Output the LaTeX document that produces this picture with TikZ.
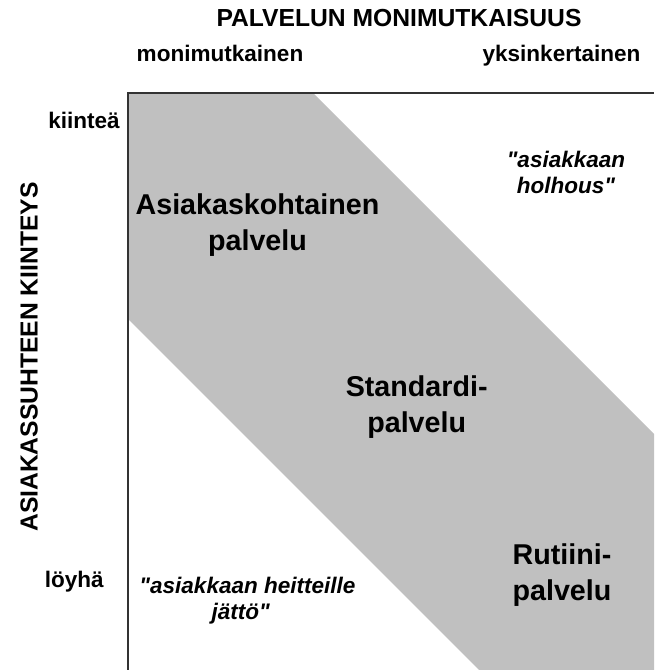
\documentclass[tikz,border=0pt]{standalone}
\usepackage{fontspec}
% plain family without TeX ligatures, so that " stays a straight quote
\newfontfamily\labelfont{Liberation Sans}
\definecolor{bandgray}{HTML}{C0C0C0}
\definecolor{frameline}{HTML}{333333}
\begin{document}
\begin{tikzpicture}[x=0.75pt,y=-0.75pt,inner sep=0pt,
  axistitle/.style={font=\labelfont\bfseries\fontsize{18.5}{22}\selectfont, anchor=base},
  endlabel/.style={font=\labelfont\bfseries\fontsize{16.9}{20}\selectfont, anchor=base},
  quadlabel/.style={font=\labelfont\bfseries\itshape\fontsize{16.9}{19.5}\selectfont, align=center, anchor=base},
  bandlabel/.style={font=\labelfont\bfseries\fontsize{21.5}{26.3}\selectfont, align=center, anchor=base}]
\useasboundingbox (0,0) rectangle (654,670);

% corners of the matrix area
\coordinate (topleft) at (128,93);
\coordinate (topright) at (654,93);
\coordinate (bottomleft) at (128,670);

% diagonal band of the service types
\fill[bandgray] (topleft) -- (313,93) -- (654,434) -- (654,670) -- (479,670) -- (128,319) -- cycle;

% axes of the matrix
\draw[line width=1pt, frameline] (bottomleft) -- (topleft) -- (topright);

% axis titles
\node[axistitle] (xtitle) at (399,27) {PALVELUN MONIMUTKAISUUS};
\node[axistitle, rotate=90] (ytitle) at (37.6,357) {ASIAKASSUHTEEN KIINTEYS};

% ends of the axes
\node[endlabel] (xleft) at (220,61.7) {monimutkainen};
\node[endlabel] (xright) at (561.5,61.7) {yksinkertainen};
\node[endlabel, anchor=base east] (ytop) at (120,129) {kiinteä};
\node[endlabel, anchor=base east] (ybottom) at (104,587) {löyhä};

% service types along the band (positions give the last baseline)
\node[bandlabel] (custom) at (257.5,250) {Asiakaskohtainen\\palvelu};
\node[bandlabel] (standard) at (416.7,432) {Standardi-\\palvelu};
\node[bandlabel] (routine) at (562,600) {Rutiini-\\palvelu};

% off-band corners
\node[quadlabel] (overcare) at (566,193.3) {"asiakkaan\\holhous"};
\node[quadlabel] (neglect) at (247.5,619) {"asiakkaan heitteille\\jättö"\hspace*{0.6em}};
\end{tikzpicture}
\end{document}
